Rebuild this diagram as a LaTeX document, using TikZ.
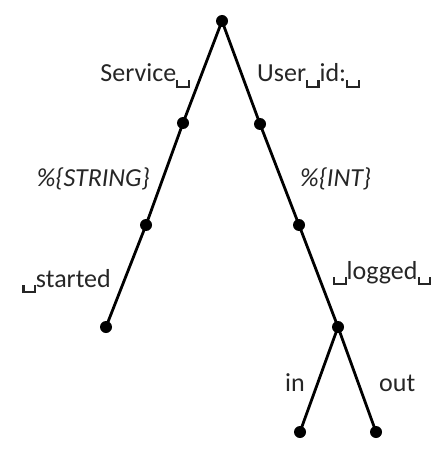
\documentclass[tikz,border=0pt]{standalone}
\usepackage{fontspec}
\setmainfont{Carlito}
\newcommand\vsp{\raisebox{-0.24em}{\rule{0.08em}{0.3em}\rule{0.36em}{0.08em}\rule{0.08em}{0.3em}}}
\begin{document}
\begin{tikzpicture}[x=1pt,y=-1pt,
  dot/.style={circle,fill=black,inner sep=0pt,minimum size=12pt},
  edge/.style={line width=2.8pt},
  lbl/.style={inner sep=0pt,text=black!85,font=\fontsize{26}{31}\selectfont}]
\useasboundingbox (0,0) rectangle (438,465);
\node[dot] (r) at (222,21) {};
\node[dot] (l1) at (183,123) {};
\node[dot] (l2) at (146,225) {};
\node[dot] (l3) at (106,327) {};
\node[dot] (r1) at (260,124) {};
\node[dot] (r2) at (299,225) {};
\node[dot] (r3) at (338,327) {};
\node[dot] (in) at (300,432) {};
\node[dot] (out) at (376,432) {};
\draw[edge] (r.center) -- (l1.center) -- (l2.center) -- (l3.center);
\draw[edge] (r.center) -- (r1.center) -- (r2.center) -- (r3.center);
\draw[edge] (r3.center) -- (in.center);
\draw[edge] (r3.center) -- (out.center);
\node[lbl,anchor=base east] (t1) at (190,82) {Service\vsp};
\node[lbl,anchor=base west] (t2) at (257,82) {User\vsp id:\vsp};
\node[lbl,anchor=base east] (t3) at (150,186) {\itshape \%\{STRING\}};
\node[lbl,anchor=base west] (t4) at (300,186) {\itshape \%\{INT\}};
\node[lbl,anchor=base east] (t5) at (111,287) {\vsp started};
\node[lbl,anchor=base west] (t6) at (333,279) {\vsp logged\vsp};
\node[lbl,anchor=base east] (t7) at (305,391) {in};
\node[lbl,anchor=base west] (t8) at (379,391) {out};
\end{tikzpicture}
\end{document}
